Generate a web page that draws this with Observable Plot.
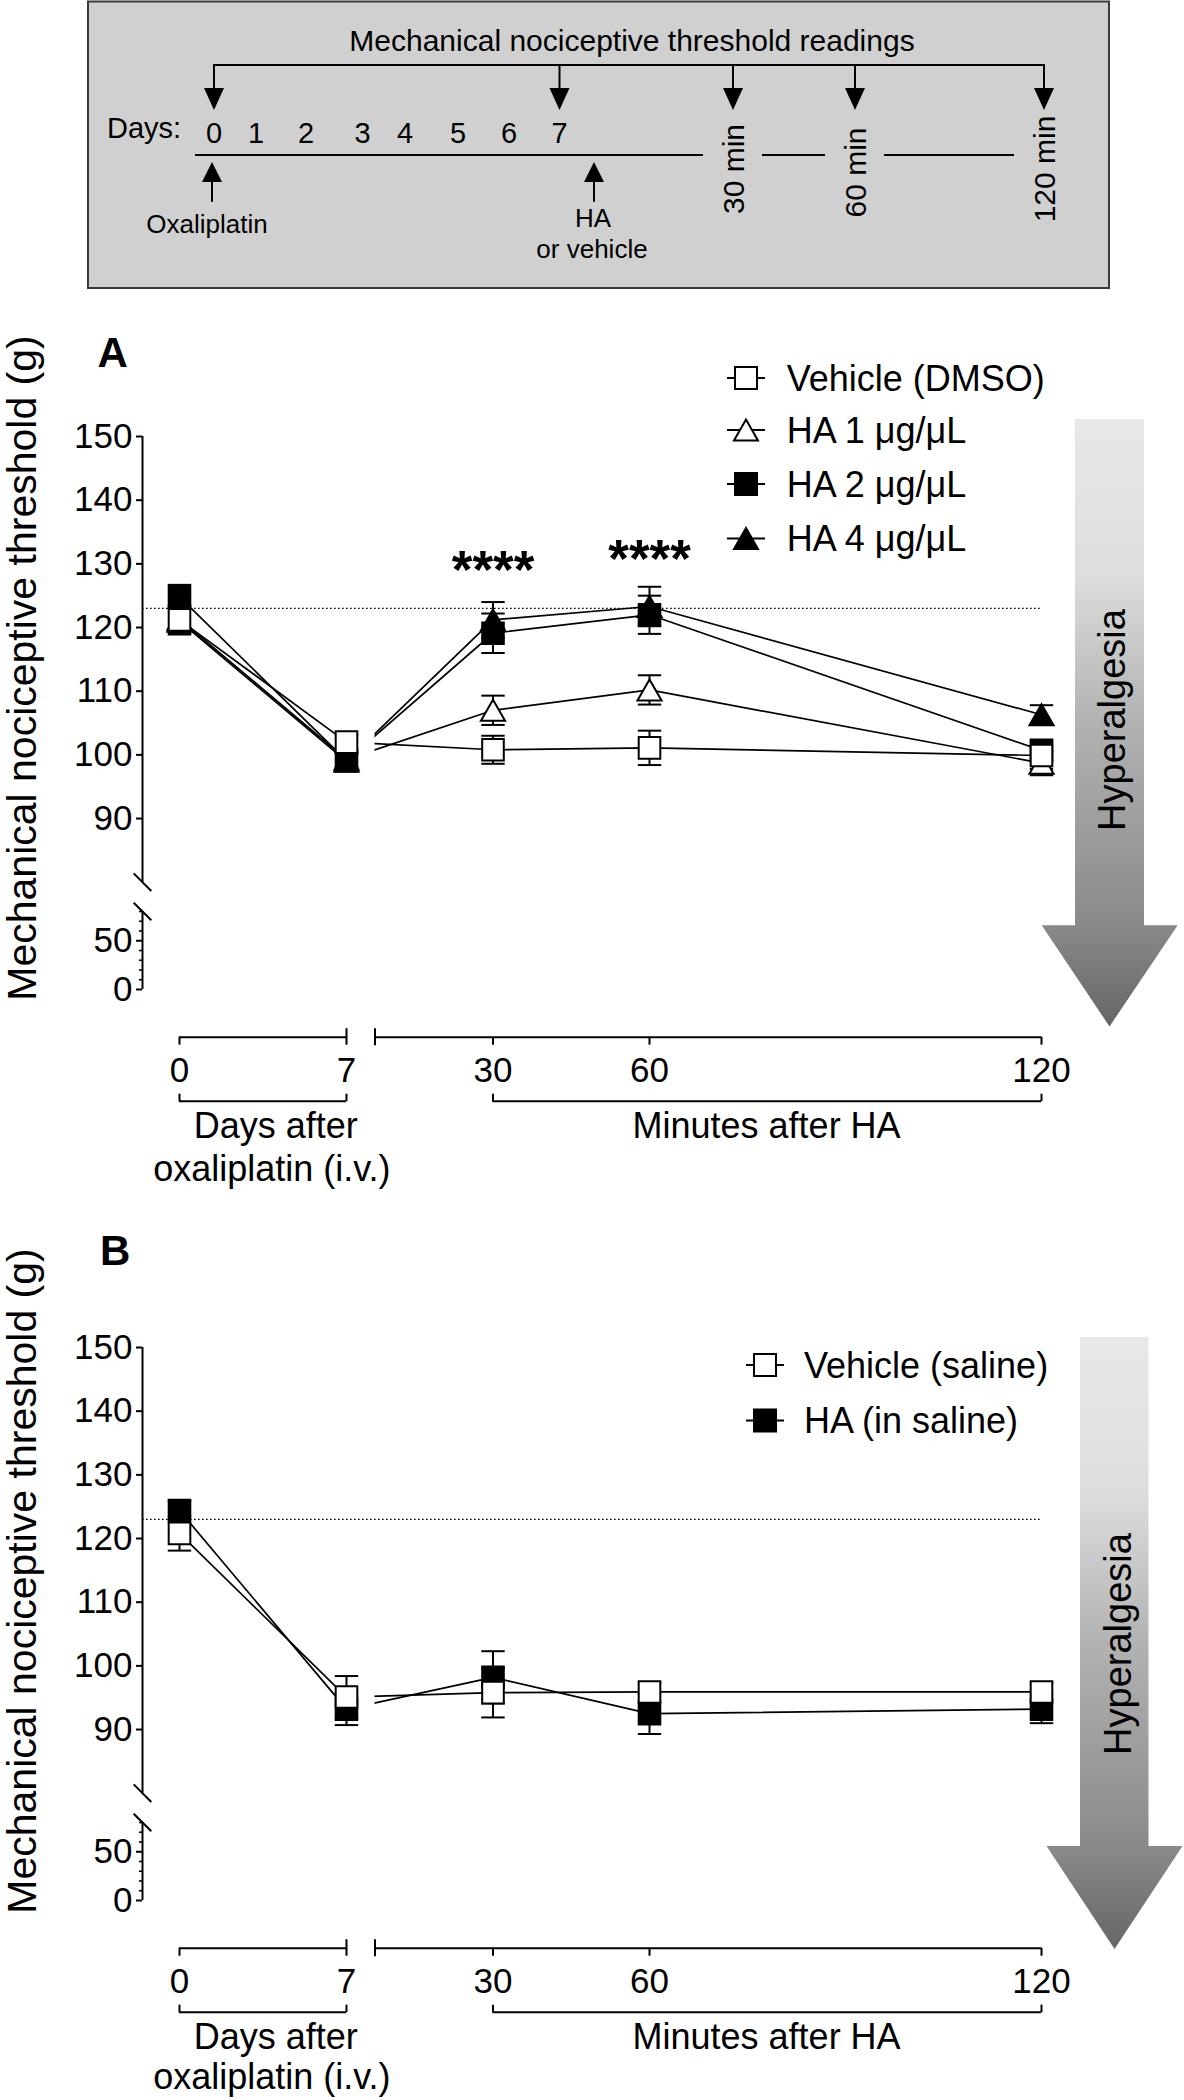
<!DOCTYPE html>
<html>
<head>
<meta charset="utf-8">
<script src="https://cdn.jsdelivr.net/npm/d3@7"></script>
<script src="https://cdn.jsdelivr.net/npm/@observablehq/plot@0.6"></script>
<style>
  html, body { margin: 0; padding: 0; background: #fff; }
  #fig { position: relative; width: 1184px; height: 2100px; overflow: hidden; background: #fff; }
  #fig svg { position: absolute; left: 0; }
</style>
</head>
<body>
<div id="fig"></div>
<script>
// ======================= DATA =======================
const timeLabels = ["0", "7", "30", "60", "120"];          // x tick labels (days 0,7 ; minutes 30,60,120)
const groupDays = ["Days after", "oxaliplatin (i.v.)"];
const groupMinutes = "Minutes after HA";
const yTitle = "Mechanical nociceptive threshold (g)";

// Panel A
const seriesA = ["Vehicle (DMSO)", "HA 1 μg/μL", "HA 2 μg/μL", "HA 4 μg/μL"];
const vehicleDMSO     = [121.2, 102.0, 100.8, 101.1, 99.9];
const vehicleDMSO_sem = [2.3, 1.2, 2.2, 2.7, 2.1];
const ha1             = [121.3, 99.3, 107.0, 110.2, 98.7];
const ha1_sem         = [2.0, 1.2, 2.3, 2.3, 1.9];
const ha2             = [124.8, 99.1, 119.1, 122.0, 100.7];
const ha2_sem         = [1.9, 1.2, 3.1, 3.0, 1.5];
const ha4             = [121.0, 99.0, 121.2, 123.3, 106.3];
const ha4_sem         = [2.0, 1.2, 2.8, 3.1, 1.5];

// Panel B
const seriesB = ["Vehicle (saline)", "HA (in saline)"];
const vehicleSaline     = [120.8, 95.1, 95.8, 95.9, 95.9];
const vehicleSaline_sem = [2.7, 3.3, 3.9, 1.5, 1.5];
const haSaline          = [124.4, 93.2, 98.2, 92.5, 93.2];
const haSaline_sem      = [1.5, 2.5, 4.1, 3.2, 2.2];

const baselineThreshold = 123;          // dotted reference line
const starTimes  = [2, 3];              // 30 min, 60 min
const starLevels = [128.8, 130.6];
const starText   = "****";
const yTicksMajor = [0, 50, 90, 100, 110, 120, 130, 140, 150];
const yTicksMinor = [10, 20, 30, 40, 60, 70, 80];

// Schematic texts
const schematicTitle = "Mechanical nociceptive threshold readings";
const scheduleDays = ["0", "1", "2", "3", "4", "5", "6", "7"];
const readingTimes = ["30 min", "60 min", "120 min"];
const injections = [["Oxaliplatin"], ["HA", "or vehicle"]];

// ======================= LAYOUT =======================
const FONT = '"Liberation Sans", Arial, Helvetica, sans-serif';
const L = {
  xStops: [-1, 0, 1, 1.5, 2, 3, 4],                 // -1 = y axis, 1.5 = start of minute segment
  xPix:   [142, 179, 346, 374.5, 492.5, 649, 1041],
  yStops: [0, 80, 80.001, 150],                     // broken y axis
  yPix:   [689, 611, 581.7, 136],                   // inside a 900px panel
  height: 900,
  xAxisDy: 47.7,
  bracketDy: 111.7
};
const panelTops = [300, 1210.5];

// custom symbols
const SYM = {
  square:   {draw(c, s) { const r = Math.sqrt(s / Math.PI); c.moveTo(-r, -r); c.lineTo(r, -r); c.lineTo(r, r); c.lineTo(-r, r); c.closePath(); }},
  triangle: {draw(c, s) { const r = Math.sqrt(s / Math.PI); c.moveTo(0, -r); c.lineTo(r * 1.15, r); c.lineTo(-r * 1.15, r); c.closePath(); }},
  hcap:     {draw(c, s) { const r = Math.sqrt(s / Math.PI); c.moveTo(-r, 0); c.lineTo(r, 0); }},
  tickUp:   {draw(c, s) { const r = Math.sqrt(s / Math.PI); c.moveTo(0, 0); c.lineTo(0, -r); }},
  tickDown: {draw(c, s) { const r = Math.sqrt(s / Math.PI); c.moveTo(0, 0); c.lineTo(0, r); }},
  tickLeft: {draw(c, s) { const r = Math.sqrt(s / Math.PI); c.moveTo(0, 0); c.lineTo(-r, 0); }},
  slash:    {draw(c, s) { const r = Math.sqrt(s / Math.PI); c.moveTo(-r, -r); c.lineTo(r, r); }}
};

function makePanel({names, values, sems, markers, order, stars}) {
  const rows = [];
  names.forEach((name, s) => values[s].forEach((v, i) => rows.push({series: name, s, i, v, sem: sems[s][i]})));
  const left = rows.filter(d => d.i <= 1);
  const right = rows.filter(d => d.i >= 1);
  const marks = [
    Plot.line(right, {x: "i", y: "v", z: "series", stroke: "black", strokeWidth: 1.7}),
    Plot.rect([0], {x1: () => 1, x2: () => 1.5, y1: () => 85, y2: () => 135, fill: "white"}),
    Plot.ruleY([baselineThreshold], {x1: () => -1, x2: () => 4, stroke: "black", strokeWidth: 1.3, strokeDasharray: "1.6 2.4"}),
    Plot.line(left, {x: "i", y: "v", z: "series", stroke: "black", strokeWidth: 1.7})
  ];
  order.forEach(s => {
    const d = rows.filter(r => r.s === s);
    marks.push(
      Plot.ruleX(d, {x: "i", y1: r => r.v - r.sem, y2: r => r.v + r.sem, stroke: "black", strokeWidth: 2}),
      Plot.dot(d, {x: "i", y: r => r.v + r.sem, symbol: SYM.hcap, r: 11.7, fill: "none", stroke: "black", strokeWidth: 2}),
      Plot.dot(d, {x: "i", y: r => r.v - r.sem, symbol: SYM.hcap, r: 11.7, fill: "none", stroke: "black", strokeWidth: 2})
    );
  });
  order.forEach(s => {
    const d = rows.filter(r => r.s === s);
    const m = markers[s];
    marks.push(Plot.dot(d, {x: "i", y: "v", symbol: SYM[m.shape], r: m.shape === "square" ? 10.8 : 10.5,
      fill: m.fill, stroke: "black", strokeWidth: 2}));
  });
  // axes
  marks.push(
    Plot.ruleX([{lo: 0, hi: 80}, {lo: 80.001, hi: 150}], {x: () => -1, y1: "lo", y2: "hi", stroke: "black", strokeWidth: 2}),
    Plot.dot([80, 80.001], {x: () => -1, y: d => d, symbol: SYM.slash, r: 8.8, fill: "none", stroke: "black", strokeWidth: 2}),
    Plot.axisY({ticks: yTicksMajor, tickSize: 6, tickPadding: 4, fontSize: 35, strokeWidth: 2, label: null}),
    Plot.dot(yTicksMinor, {x: () => -1, y: d => d, symbol: SYM.tickLeft, r: 3.5, fill: "none", stroke: "black", strokeWidth: 1.6}),
    Plot.ruleY([{a: 0, b: 1}, {a: 1.5, b: 4}], {x1: "a", x2: "b", y: () => 0, dy: L.xAxisDy, stroke: "black", strokeWidth: 2}),
    Plot.axisX({ticks: [0, 1, 2, 3, 4], tickFormat: i => timeLabels[i], tickSize: 8, tickPadding: 12, fontSize: 35, strokeWidth: 2, label: null}),
    Plot.dot([1, 1.5], {x: d => d, y: () => 0, dy: L.xAxisDy, symbol: SYM.tickUp, r: 9, fill: "none", stroke: "black", strokeWidth: 2}),
    Plot.dot([1.5], {x: d => d, y: () => 0, dy: L.xAxisDy, symbol: SYM.tickDown, r: 8, fill: "none", stroke: "black", strokeWidth: 2}),
    Plot.ruleY([{a: 0, b: 1}, {a: 2, b: 4}], {x1: "a", x2: "b", y: () => 0, dy: L.bracketDy, stroke: "black", strokeWidth: 2}),
    Plot.dot([0, 1, 2, 4], {x: d => d, y: () => 0, dy: L.bracketDy, symbol: SYM.tickUp, r: 7.5, fill: "none", stroke: "black", strokeWidth: 2})
  );
  if (stars) marks.push(Plot.text(starTimes.map((t, k) => ({t, v: starLevels[k]})),
    {x: "t", y: "v", text: () => starText, fontSize: 53, fontWeight: "bold"}));

  return Plot.plot({
    width: 1184, height: L.height,
    marginTop: 136, marginBottom: L.height - (L.yPix[0] + L.xAxisDy), marginLeft: 142, marginRight: 143,
    x: {type: "linear", domain: L.xStops, range: L.xPix},
    y: {type: "linear", domain: L.yStops, range: L.yPix},
    style: {background: "transparent", fontFamily: FONT, fontSize: "35px", color: "black", overflow: "visible"},
    marks
  });
}

const fig = document.getElementById("fig");
const markersA = [{shape: "square", fill: "white"}, {shape: "triangle", fill: "white"}, {shape: "square", fill: "black"}, {shape: "triangle", fill: "black"}];
const markersB = [{shape: "square", fill: "white"}, {shape: "square", fill: "black"}];

const pA = makePanel({names: seriesA, values: [vehicleDMSO, ha1, ha2, ha4], sems: [vehicleDMSO_sem, ha1_sem, ha2_sem, ha4_sem],
  markers: markersA, order: [1, 2, 3, 0], stars: true});
pA.style.top = panelTops[0] + "px";
fig.appendChild(pA);
const pB = makePanel({names: seriesB, values: [vehicleSaline, haSaline], sems: [vehicleSaline_sem, haSaline_sem],
  markers: markersB, order: [1, 0], stars: false});
pB.style.top = panelTops[1] + "px";
fig.appendChild(pB);

// ======================= OVERLAY (schematic, titles, legends, arrows) =======================
const ov = d3.select(fig).append("svg").attr("width", 1184).attr("height", 2100)
  .style("top", "0px").attr("font-family", FONT);

function txt(x, y, s, size, o = {}) {
  const t = ov.append("text").attr("font-size", size).attr("fill", "black").text(s);
  if (o.rotate) t.attr("transform", `translate(${x},${y}) rotate(${o.rotate})`); else t.attr("x", x).attr("y", y);
  t.attr("text-anchor", o.anchor || "start");
  if (o.weight) t.attr("font-weight", o.weight);
  return t;
}
function line(x1, y1, x2, y2, w = 2) {
  ov.append("line").attr("x1", x1).attr("y1", y1).attr("x2", x2).attr("y2", y2).attr("stroke", "black").attr("stroke-width", w);
}
function poly(pts, fill) {
  ov.append("polygon").attr("points", pts.map(p => p.join(",")).join(" ")).attr("fill", fill);
}

// --- schematic ---
const S = {
  arrowXs: [214, 559.5, 733, 855, 1044],
  dayXs: [214, 256, 306, 362.6, 405, 458, 509, 559.5],
  segs: [[195, 703], [762, 825], [884, 1014]],
  rot: [[733, 169], [855, 172.5], [1044, 169]],
  upXs: [212, 594],
  inj: [[[207, 233.3]], [[593, 226.7], [592, 258.3]]]
};
ov.append("rect").attr("x", 88).attr("y", 1.5).attr("width", 1021).attr("height", 286.5)
  .attr("fill", "#d0d0d0").attr("stroke", "#3a3a3a").attr("stroke-width", 2);
txt(632, 50.7, schematicTitle, 30, {anchor: "middle"});
line(S.arrowXs[0], 65, S.arrowXs[S.arrowXs.length - 1], 65);
S.arrowXs.forEach(x => { line(x, 64, x, 90); poly([[x - 10, 88], [x + 10, 88], [x, 110]], "black"); });
txt(107, 137.7, "Days:", 29);
scheduleDays.forEach((d, k) => txt(S.dayXs[k], 143.3, d, 29, {anchor: "middle"}));
S.segs.forEach(([a, b]) => line(a, 155, b, 155));
readingTimes.forEach((r, k) => txt(S.rot[k][0] + 10.7, S.rot[k][1], r, 30, {anchor: "middle", rotate: -90}));
S.upXs.forEach(x => { line(x, 180, x, 201.7); poly([[x - 10, 182], [x + 10, 182], [x, 162]], "black"); });
injections.forEach((lines, k) => lines.forEach((s, j) => txt(S.inj[k][j][0], S.inj[k][j][1], s, 26, {anchor: "middle"})));

// --- panel letters & axis titles ---
txt(97.6, 367, "A", 42, {weight: "bold"});
txt(100, 1265, "B", 42, {weight: "bold"});
txt(36, 668, yTitle, 41, {anchor: "middle", rotate: -90});
txt(36, 1581, yTitle, 41, {anchor: "middle", rotate: -90});
[[0, 1181], [910.5, 2089]].forEach(([off, y2]) => {
  txt(275.7, 1138.3 + off, groupDays[0], 36, {anchor: "middle"});
  txt(271.9, y2, groupDays[1], 36, {anchor: "middle"});
  txt(766.6, 1138.3 + off, groupMinutes, 36, {anchor: "middle"});
});

// --- legends ---
function legendMarker(cx, cy, m, half) {
  line(cx - half, cy, cx + half, cy, 2);
  if (m.shape === "square") {
    ov.append("rect").attr("x", cx - 11).attr("y", cy - 11).attr("width", 22).attr("height", 22)
      .attr("fill", m.fill).attr("stroke", "black").attr("stroke-width", 2);
  } else {
    ov.append("path").attr("d", `M${cx},${cy - 10.5}L${cx + 12},${cy + 10.5}L${cx - 12},${cy + 10.5}Z`)
      .attr("fill", m.fill).attr("stroke", "black").attr("stroke-width", 2);
  }
}
const legA = {cx: 746, half: 19, tx: 786.7, ys: [378, 430, 484, 538.5]};
seriesA.forEach((s, k) => { legendMarker(legA.cx, legA.ys[k], markersA[k], legA.half); txt(legA.tx, legA.ys[k] + 12.9, s, 36); });
const legB = {cx: 765, half: 19, tx: 804, ys: [1365, 1420.5]};
seriesB.forEach((s, k) => { legendMarker(legB.cx, legB.ys[k], markersB[k], legB.half); txt(legB.tx, legB.ys[k] + 12.9, s, 36); });

// --- hyperalgesia arrows ---
const grad = ov.append("defs").append("linearGradient").attr("id", "hyp").attr("x1", 0).attr("y1", 0).attr("x2", 0).attr("y2", 1);
[[0, "#e8e8e8"], [0.25, "#dedede"], [0.5, "#b2b2b2"], [0.83, "#8a8a8a"], [1, "#666666"]]
  .forEach(([o, c]) => grad.append("stop").attr("offset", o).attr("stop-color", c));
function hypArrow(a) {
  poly([[a.s0, a.top], [a.s1, a.top], [a.s1, a.head], [a.h1, a.head], [a.tipX, a.tip], [a.h0, a.head], [a.s0, a.head]], "url(#hyp)");
  txt(a.tx, a.ty, "Hyperalgesia", 38, {anchor: "middle", rotate: -90});
}
hypArrow({s0: 1075, s1: 1144, top: 419.2, head: 925.3, h0: 1041.7, h1: 1177.7, tipX: 1109.5, tip: 1026.5, tx: 1125, ty: 720});
hypArrow({s0: 1080, s1: 1148.5, top: 1337, head: 1846, h0: 1046.5, h1: 1182.5, tipX: 1114.5, tip: 1949, tx: 1131, ty: 1644});
</script>
</body>
</html>
